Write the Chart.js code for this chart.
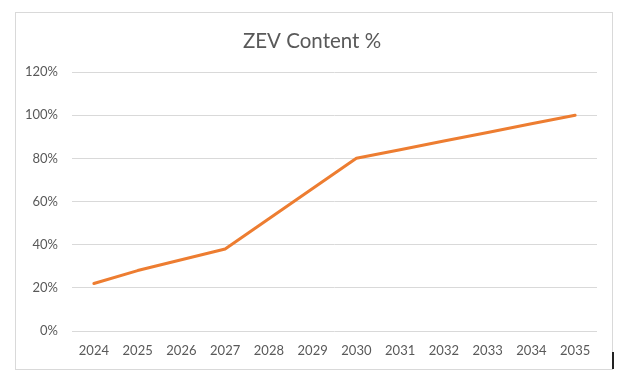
<!DOCTYPE html>
<html>
<head>
<meta charset="utf-8">
<script src="https://cdn.jsdelivr.net/npm/chart.js@4/dist/chart.umd.min.js"></script>
<style>
  html, body { margin: 0; padding: 0; background: #fff; }
  #wrap { position: relative; width: 624px; height: 382px; overflow: hidden; }
  #frame { position: absolute; left: 15px; top: 12px; width: 598px; height: 358px; box-sizing: border-box; border: 1px solid #d9d9d9; pointer-events: none; }
  #mark { position: absolute; left: 612px; top: 352px; width: 2px; height: 17px; background: #222; }
  canvas { position: absolute; left: 0; top: 0; }
</style>
</head>
<body>
<div id="wrap">
  <canvas id="c" width="624" height="382"></canvas>
  <div id="frame"></div>
  <div id="mark"></div>
</div>
<script>
const categories = ['2024','2025','2026','2027','2028','2029','2030','2031','2032','2033','2034','2035'];
const zevContent = [22, 28, 33, 38, 52, 66, 80, 84, 88, 92, 96, 100];
const yTicks = [0, 20, 40, 60, 80, 100, 120];
const titleText = 'ZEV Content %';

const FONT = 'Lato, "Open Sans", "Liberation Sans", sans-serif';

new Chart(document.getElementById('c'), {
  type: 'line',
  data: {
    labels: categories,
    datasets: [{
      label: titleText,
      data: zevContent,
      borderColor: '#ED7D31',
      backgroundColor: '#ED7D31',
      borderWidth: 3,
      pointRadius: 0,
      tension: 0,
      borderCapStyle: 'round',
      borderJoinStyle: 'round'
    }]
  },
  options: {
    responsive: false,
    animation: false,
    devicePixelRatio: 1,
    layout: { padding: { left: 0, right: 0, top: 0, bottom: 0 } },
    plugins: {
      legend: { display: false },
      tooltip: { enabled: false },
      title: {
        display: true,
        text: titleText,
        color: '#595959',
        font: { family: FONT, size: 20.5, weight: 'normal' },
        padding: { top: 29, bottom: 18.4 }
      }
    },
    scales: {
      x: {
        offset: true,
        grid: { display: false, drawTicks: false },
        border: { display: false },
        ticks: { color: '#595959', font: { family: FONT, size: 13 }, padding: 12, maxRotation: 0, autoSkip: false },
        afterFit: s => { s.height = 51; }
      },
      y: {
        min: 0,
        max: 120,
        afterBuildTicks: s => { s.ticks = yTicks.map(v => ({ value: v })); },
        grid: { color: '#d9d9d9', lineWidth: 1, drawTicks: false },
        border: { display: false },
        ticks: { color: '#595959', font: { family: FONT, size: 13 }, padding: 14, callback: v => v + '%' },
        afterFit: s => { s.width = 72; }
      },
      yRight: {
        position: 'right',
        display: true,
        min: 0,
        max: 120,
        grid: { display: false, drawTicks: false },
        border: { display: false },
        ticks: { display: false },
        afterFit: s => { s.width = 27; }
      }
    }
  }
});
</script>
</body>
</html>
